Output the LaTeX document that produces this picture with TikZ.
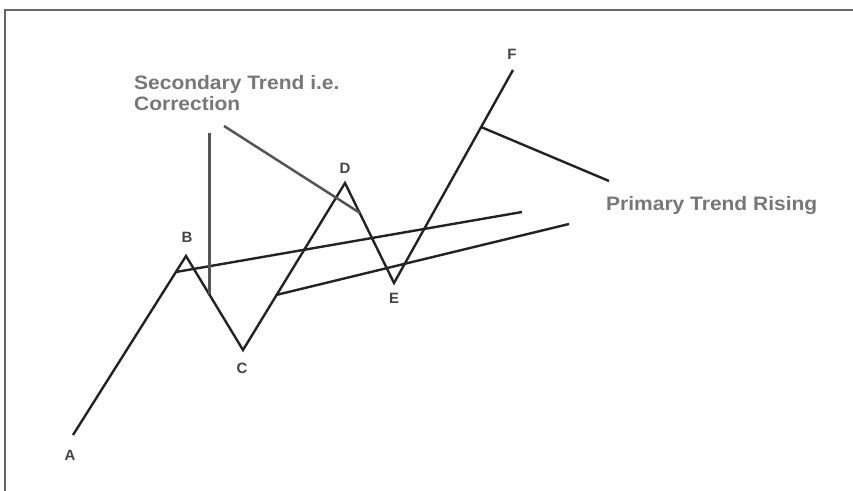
\documentclass[tikz,border=0pt]{standalone}
\usepackage{fontspec}
\setmainfont{Liberation Sans}
\definecolor{linec}{HTML}{232323}
\definecolor{ptrc}{HTML}{555555}
\definecolor{txtc}{HTML}{777777}
\definecolor{lblc}{HTML}{444444}
\definecolor{framec}{HTML}{666666}
\tikzset{
  zig/.style={draw=linec, line width=2.4bp, line join=miter},
  trendline/.style={draw=linec, line width=2.4bp},
  pointer/.style={draw=ptrc, line width=2.5bp},
  ptlabel/.style={font=\fontsize{15}{17}\selectfont\bfseries, text=lblc, inner sep=0pt},
  caption/.style={font=\fontsize{19.5}{22}\selectfont\bfseries, text=txtc, inner sep=0pt, anchor=base west},
}
\begin{document}
\begin{tikzpicture}[x=1bp, y=-1bp]
\useasboundingbox (0,0) rectangle (853,491);
\fill[white] (0,0) rectangle (853,491);
% frame
\draw[framec, line width=1.5bp] (5,491) -- (5,10) -- (853,10);
% wave vertices
\coordinate (A) at (73,435);
\coordinate (B) at (186,256);
\coordinate (C) at (243,350);
\coordinate (D) at (345,183);
\coordinate (E) at (394,283);
\coordinate (F) at (513,70);
\draw[zig] (A) -- (B) -- (C) -- (D) -- (E) -- (F);
% labels
\node[ptlabel] (lA) at (70,455) {A};
\node[ptlabel] (lB) at (187,237) {B};
\node[ptlabel] (lC) at (242,368) {C};
\node[ptlabel] (lD) at (345,168) {D};
\node[ptlabel] (lE) at (394,298) {E};
\node[ptlabel] (lF) at (512,54) {F};
% trend lines
\coordinate (u1) at (176,272);
\coordinate (u2) at (522,212);
\coordinate (w1) at (276,295);
\coordinate (w2) at (569,224);
\draw[trendline] (u1) -- (u2);
\draw[trendline] (w1) -- (w2);
% primary trend pointer
\coordinate (pf) at (481,127);
\coordinate (pe) at (609,181);
\draw[trendline] (pf) -- (pe);
% secondary trend pointers
\coordinate (s1) at (209.5,133);
\coordinate (s2) at (209.5,294);
\coordinate (s3) at (224,126);
\coordinate (s4) at (360,213);
\draw[pointer] (s1) -- (s2);
\draw[pointer] (s3) -- (s4);
% captions
\node[caption] (sec1) at (134,90) {\scalebox{1.08}[1]{Secondary Trend i.e.}};
\node[caption] (sec2) at (134,111) {\scalebox{1.08}[1]{Correction}};
\node[caption] (prim) at (606,211) {\scalebox{1.08}[1]{Primary Trend Rising}};
\end{tikzpicture}
\end{document}
